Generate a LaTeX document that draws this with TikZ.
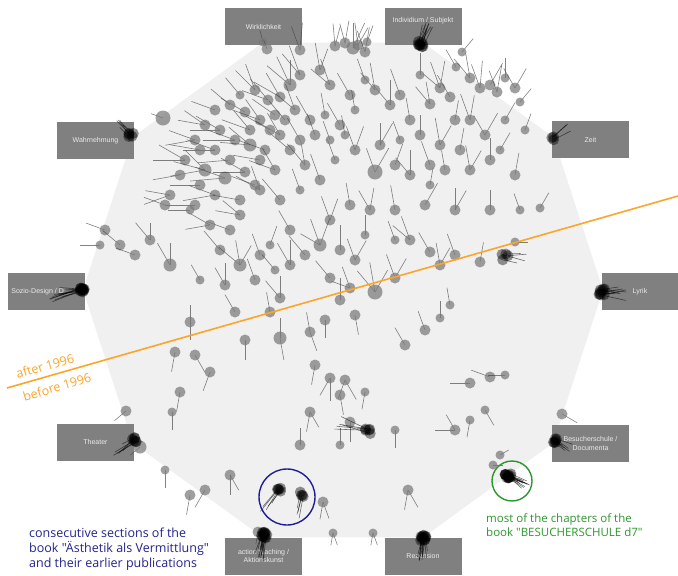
\documentclass[tikz,border=0pt]{standalone}
\usepackage{graphicx}
\usepackage{fontspec}
\setmainfont{Liberation Sans}
\newfontfamily\annf{Open Sans}
\usetikzlibrary{calc}
\definecolor{bgc}{RGB}{240,240,240}
\definecolor{boxc}{RGB}{128,128,128}
\definecolor{orng}{RGB}{252,165,40}
\definecolor{navyc}{RGB}{35,35,140}
\definecolor{navyl}{RGB}{30,30,150}
\definecolor{grn}{RGB}{45,150,45}
\tikzset{
  catbox/.style={fill=boxc,draw=none,minimum width=77,minimum height=37,inner sep=1,
    text=black!8,font=\fontsize{7}{8.5}\selectfont,align=center},
  spk/.style={draw=black!75,line width=0.6,draw opacity=0.65},
  dotf/.style={fill=black!52,fill opacity=0.72},
  bspk/.style={draw=black,line width=0.6,draw opacity=0.55},
  bdot/.style={fill=black,fill opacity=0.42},
  yeartxt/.style={text=orng,anchor=center,inner sep=0,font=\annf\fontsize{12.5}{14}\selectfont},
}
\newcommand\dt[4]{\foreach \a/\l in {#4}{\draw[spk] (#1,#2) -- ++(\a:{1.25*\l});}\fill[dotf] (#1,#2) circle ({#3+0.5});}
\newcommand\blob[5]{%
  \foreach \k in {1,...,#5}{%
    \pgfmathsetmacro\da{(rnd-0.5)*6}%
    \pgfmathsetmacro\db{(rnd-0.5)*6}%
    \pgfmathsetmacro\an{#3+(rnd-0.5)*26}%
    \pgfmathsetmacro\ln{#4*(0.6+0.6*rnd)}%
    \draw[bspk] ($(#1,#2)+(\da,\db)$) -- ++(\an:\ln);
    \fill[bdot] ($(#1,#2)+(\da,\db)$) circle (5.5);
  }}
\begin{document}
\begin{tikzpicture}[x=1pt,y=-1pt]
\pgfmathsetseed{11}
\useasboundingbox (0,0) rectangle (678,576);
% decagon
\foreach \i in {0,...,9}{\path (343,290) ++(\i*36:260) coordinate (v\i);}
\fill[bgc] (v0) -- (v1) -- (v2) -- (v3) -- (v4) -- (v5) -- (v6) -- (v7) -- (v8) -- (v9) -- cycle;
% category boxes
\node[catbox] (wirk) at (263.5,26.5) {Wirklichkeit};
\node[catbox] (indiv) at (423,26.5) {Individium / Subjekt\\[5pt]};
\node[catbox] (zeit) at (590.5,139.5) {Zeit};
\node[catbox] (lyrik) at (640,291.5) {Lyrik};
\node[catbox] (besuch) at (590.5,443.5) {Besucherschule /\\Documenta};
\node[catbox] (rez) at (423,556) {Rezension};
\node[catbox] (action) at (263.5,556) {action teaching /\\Aktionskunst};
\node[catbox] (theater) at (95.5,442) {Theater};
\node[catbox] (sozio) at (46,291.5) {Sozio-Design / D\phantom{esign}};
\node[catbox] (wahr) at (95.5,140.5) {Wahrnehmung};
% dots
\dt{263}{42}{4}{255/10}
\dt{267}{49}{5}{250/8}
\dt{300}{50}{5}{250/20,275/22}
\dt{335}{46}{5}{265/18,285/16}
\dt{345}{43}{5}{255/16,280/18}
\dt{353}{48}{6}{270/20,295/22}
\dt{358}{45}{5}{262/18,300/16}
\dt{365}{52}{5}{280/20,250/18}
\dt{367}{42}{4}{290/14}
\dt{462}{52}{4}{310/14}
\dt{456}{67}{4}{240/16}
\dt{470}{78}{5}{260/20,230/20}
\dt{480}{88}{5}{250/20,275/22}
\dt{490}{85}{5}{300/20}
\dt{497}{92}{5}{250/18,280/22}
\dt{505}{78}{4}{270/16}
\dt{515}{88}{5}{300/18,240/18}
\dt{520}{102}{4}{310/14}
\dt{440}{88}{5}{250/22,280/22,220/18}
\dt{450}{97}{5}{240/20}
\dt{430}{104}{5}{260/18,230/18}
\dt{420}{75}{4}{270/18}
\dt{400}{95}{5}{250/22}
\dt{390}{105}{5}{270/20,230/22}
\dt{375}{90}{5}{260/22,230/18}
\dt{365}{80}{4}{250/18}
\dt{350}{95}{5}{240/20}
\dt{330}{85}{5}{250/22,220/20}
\dt{320}{70}{5}{260/22,290/18}
\dt{300}{75}{5}{230/22,250/25}
\dt{290}{85}{6}{220/24,245/25,270/20}
\dt{280}{97}{5}{210/24,240/22}
\dt{268}{100}{5}{200/22,230/22}
\dt{255}{90}{5}{225/22,250/22}
\dt{245}{112}{5}{210/22}
\dt{260}{120}{5}{200/24,235/20}
\dt{275}{115}{5}{215/22}
\dt{295}{110}{5}{220/20,250/22}
\dt{310}{120}{5}{240/22}
\dt{325}{115}{4}{260/18}
\dt{340}{125}{5}{240/20}
\dt{355}{110}{4}{260/16}
\dt{220}{130}{5}{180/24,210/22}
\dt{205}{125}{5}{190/22,215/20}
\dt{235}{140}{5}{180/26,200/24}
\dt{250}{145}{6}{185/24,220/22}
\dt{265}{150}{5}{200/22}
\dt{280}{135}{5}{210/22,240/20}
\dt{163}{118}{7}{200/10}
\dt{195}{140}{5}{170/24,200/22}
\dt{185}{160}{5}{180/26,210/24}
\dt{205}{170}{6}{170/28,195/26,225/22}
\dt{225}{178}{6}{175/28,200/25}
\dt{245}{172}{5}{180/26,210/22}
\dt{260}{160}{5}{190/22}
\dt{275}{170}{5}{200/22,240/20}
\dt{290}{150}{5}{220/24}
\dt{305}{165}{5}{230/22,260/20}
\dt{320}{180}{5}{250/22}
\dt{335}{160}{4}{250/18}
\dt{215}{195}{5}{170/26,200/22}
\dt{195}{205}{5}{180/24}
\dt{170}{195}{5}{160/22,190/20}
\dt{240}{200}{5}{190/22}
\dt{260}{190}{5}{210/22,250/20}
\dt{280}{200}{5}{230/22}
\dt{300}{190}{4}{250/18}
\dt{215}{150}{5}{180/26,200/24}
\dt{230}{160}{5}{175/26}
\dt{200}{150}{5}{190/24}
\dt{250}{130}{5}{200/24,230/20}
\dt{270}{130}{5}{210/22}
\dt{285}{120}{5}{230/20}
\dt{215}{110}{5}{200/20}
\dt{230}{105}{5}{220/20}
\dt{240}{95}{4}{230/18}
\dt{180}{175}{5}{170/22}
\dt{200}{185}{5}{180/24}
\dt{255}{185}{5}{200/20}
\dt{300}{140}{5}{240/20}
\dt{315}{135}{5}{250/18}
\dt{330}{140}{4}{250/16}
\dt{345}{135}{4}{260/16}
\dt{410}{120}{5}{260/18}
\dt{420}{135}{5}{270/16}
\dt{400}{140}{4}{250/16}
\dt{455}{120}{5}{280/16}
\dt{505}{120}{4}{300/16}
\dt{525}{130}{4}{290/14}
\dt{445}{170}{5}{260/16}
\dt{430}{185}{4}{280/14}
\dt{355}{150}{5}{250/20,290/20}
\dt{380}{145}{5}{270/18,300/20}
\dt{375}{172}{7}{250/20,300/22}
\dt{395}{165}{5}{290/18}
\dt{410}{175}{5}{270/20,230/18}
\dt{430}{165}{5}{250/20}
\dt{440}{145}{5}{260/22,300/18}
\dt{460}{150}{5}{280/18}
\dt{470}{120}{5}{250/22,280/20}
\dt{485}{135}{5}{300/20,240/18}
\dt{470}{170}{5}{260/20,300/18}
\dt{490}{160}{5}{270/18}
\dt{500}{150}{4}{300/16}
\dt{515}{175}{5}{280/18}
\dt{490}{210}{5}{270/16}
\dt{540}{208}{4}{300/14}
\dt{520}{210}{4}{250/14}
\dt{455}{210}{5}{270/18,300/18}
\dt{425}{205}{5}{300/20}
\dt{395}{210}{5}{260/20}
\dt{370}{210}{5}{280/18,240/18}
\dt{350}{205}{5}{260/18}
\dt{330}{220}{5}{250/20,290/18}
\dt{320}{245}{6}{250/22,290/22,210/18}
\dt{340}{250}{5}{270/20}
\dt{355}{260}{5}{250/18,300/18}
\dt{305}{255}{5}{230/20}
\dt{290}{265}{5}{240/20,270/20}
\dt{240}{215}{5}{190/20,220/18}
\dt{230}{230}{5}{200/20}
\dt{210}{225}{5}{170/20,210/20}
\dt{190}{210}{4}{180/18}
\dt{165}{205}{5}{200/18}
\dt{105}{230}{5}{200/16}
\dt{100}{245}{4}{180/16}
\dt{120}{245}{5}{220/18}
\dt{150}{240}{5}{230/18,270/14}
\dt{135}{255}{5}{200/16}
\dt{170}{265}{6}{240/20,270/18}
\dt{220}{250}{5}{230/20}
\dt{240}{265}{6}{220/22,260/20,300/18}
\dt{260}{255}{5}{250/18}
\dt{270}{245}{4}{290/16}
\dt{395}{240}{4}{250/16}
\dt{365}{235}{4}{270/16}
\dt{290}{230}{5}{240/18}
\dt{275}{270}{4}{230/16}
\dt{200}{280}{4}{240/14}
\dt{410}{240}{5}{250/20,220/18}
\dt{430}{252}{5}{240/18}
\dt{440}{265}{5}{260/18,300/16}
\dt{455}{255}{5}{250/18}
\dt{480}{262}{5}{280/16}
\dt{515}{242}{4}{0/10}
\dt{395}{278}{5}{250/20,300/18}
\dt{375}{292}{7}{230/22,260/24,300/20}
\dt{350}{288}{5}{250/18,200/16}
\dt{330}{278}{5}{230/18}
\dt{340}{300}{5}{270/18}
\dt{225}{285}{5}{270/18,240/16}
\dt{255}{280}{5}{250/18}
\dt{280}{298}{5}{230/18,270/18}
\dt{270}{312}{5}{260/16}
\dt{235}{312}{5}{240/16}
\dt{245}{340}{5}{90/16}
\dt{280}{338}{6}{80/18,270/16}
\dt{310}{332}{5}{70/16,260/16}
\dt{325}{320}{5}{90/14}
\dt{355}{315}{5}{80/16}
\dt{190}{322}{5}{90/14,270/14}
\dt{175}{352}{5}{100/16}
\dt{195}{355}{5}{60/16}
\dt{210}{372}{5}{110/16}
\dt{405}{345}{5}{240/16}
\dt{425}{330}{5}{250/16}
\dt{440}{318}{4}{270/14}
\dt{450}{305}{4}{260/14}
\dt{315}{365}{5}{100/16}
\dt{330}{378}{5}{90/18,120/16}
\dt{345}{380}{5}{60/18,110/16}
\dt{340}{395}{5}{80/16}
\dt{365}{392}{4}{100/14}
\dt{470}{383}{5}{180/16}
\dt{490}{377}{5}{200/16}
\dt{505}{375}{4}{180/14}
\dt{180}{392}{5}{100/16}
\dt{126}{411}{5}{140/12}
\dt{172}{412}{4}{90/14}
\dt{310}{412}{5}{100/16,60/14}
\dt{350}{422}{5}{90/16}
\dt{395}{430}{4}{90/14}
\dt{455}{430}{5}{180/16,240/14}
\dt{470}{420}{4}{100/14}
\dt{485}{410}{4}{60/14}
\dt{300}{445}{5}{270/14}
\dt{230}{475}{5}{90/16,60/14}
\dt{205}{490}{5}{120/16}
\dt{190}{495}{5}{100/16}
\dt{165}{470}{4}{90/14}
\dt{340}{445}{4}{270/14}
\dt{408}{490}{5}{100/16,60/16}
\dt{323}{502}{5}{100/14,70/14}
\dt{333}{533}{4}{100/10,70/10}
\dt{373}{533}{4}{100/10,70/10}
\dt{562}{414}{5}{30/14}
\dt{258}{532}{5}{100/10}
\dt{140}{447}{6}{140/10}
\dt{493}{465}{4}{0/8}
\dt{500}{455}{4}{330/8}
% dark blobs
\blob{421}{44}{290}{24}{9}
\blob{131}{136}{230}{20}{5}
\blob{553}{138}{325}{26}{3}
\blob{82}{290}{172}{30}{12}
\blob{602}{292}{0}{22}{9}
\blob{555}{441}{30}{16}{6}
\blob{135}{440}{140}{22}{6}
\blob{264}{535}{100}{22}{12}
\blob{423}{538}{95}{22}{12}
\blob{508}{476}{30}{20}{14}
\blob{505}{257}{5}{20}{4}
\blob{368}{432}{195}{26}{5}
\blob{278}{490}{120}{24}{5}
\blob{301}{495}{110}{22}{4}
% orange line
\coordinate (oL) at (7,388);
\coordinate (oR) at (678,196);
\draw[orng,line width=1.6] (oL) -- (oR);
\node[yeartxt] (aft) at (45,366) {\rotatebox{16}{after 1996}};
\node[yeartxt] (bef) at (57,387) {\rotatebox{16}{before 1996}};
% highlight circles
\draw[navyl,line width=1.4] (287,497) circle (28);
\draw[grn,line width=1.4] (512,481) circle (20);
% annotations
\node[anchor=north west,inner sep=0,align=left,text=navyc,font=\annf\fontsize{12.5}{15}\selectfont] (blue) at (29,528)
  {consecutive sections of the\\book "Ästhetik als Vermittlung"\\and their earlier publications};
\node[anchor=north west,inner sep=0,align=left,text=grn,font=\annf\fontsize{11.5}{14}\selectfont] (green) at (486,513)
  {most of the chapters of the\\book "BESUCHERSCHULE d7"};
\end{tikzpicture}
\end{document}
